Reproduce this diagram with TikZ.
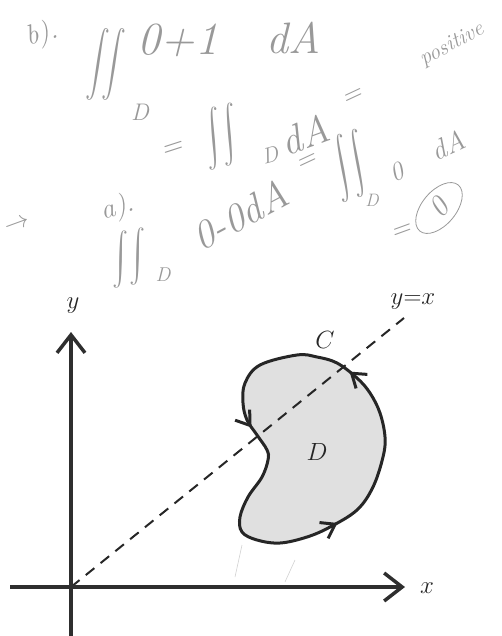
\documentclass[tikz,border=0pt]{standalone}
\usepackage{amsmath}
\usetikzlibrary{arrows.meta,decorations.markings,shapes.geometric}
\newcommand{\tallint}[1]{\scalebox{1}[#1]{$\displaystyle\iint$}}
\begin{document}
\begin{tikzpicture}[x=1pt,y=-1pt,
  axisline/.style={line width=3.5pt, draw=black!82, -{Straight Barb[length=18pt,width=28pt]}},
  dashline/.style={line width=2pt, draw=black!85, dash pattern=on 11pt off 8pt},
  curvetip/.style={line width=3pt},
  lab/.style={font=\fontsize{28}{30}\selectfont, text=black!85},
  hw/.style={text=black!40, font=\itshape\fontsize{#1}{#1}\selectfont, inner sep=0pt},
  scratch/.style={draw=black!18, line width=0.6pt}]
\useasboundingbox (0,0) rectangle (501,636);

% ---- handwritten notes ----
\node[hw=28, rotate=15] (hb) at (42,35) {b).};
\node[hw=40] (hi1) at (106,64) {\tallint{1.3}};
\node[hw=24] (hd1) at (140,112) {D};
\node[hw=46] (he1) at (178,40) {0+1};
\node[hw=44] (hda1) at (293,38) {dA};
\node[hw=22, rotate=28] (hpos) at (452,45) {positive};

\node[hw=30, rotate=18] (heq2) at (173,150) {=};
\node[hw=32, rotate=15] (hi2) at (221,137) {\tallint{1.1}};
\node[hw=22, rotate=15] (hd2) at (270,155) {D};
\node[hw=40, rotate=20] (hda2) at (305,135) {dA};
\node[hw=28, rotate=25] (heq2b) at (353,97) {=};

\node[hw=26, rotate=20] (harr) at (18,225) {$\rightarrow$};
\node[hw=28, rotate=15] (ha) at (118,208) {a).};
\node[hw=24, rotate=10] (hi3) at (129,258) {\tallint{1.0}};
\node[hw=20] (hd3) at (163,275) {D};
\node[hw=40, rotate=28] (he3) at (240,215) {0-0dA};
\node[hw=28, rotate=25] (heq3) at (307,162) {=};
\node[hw=30, rotate=20] (hi4) at (350,166) {\tallint{1.2}};
\node[hw=18] (hd4) at (372,200) {D};
\node[hw=26, rotate=25] (hz) at (397,172) {0};
\node[hw=28, rotate=25] (hda4) at (448,145) {dA};
\node[hw=28, rotate=20] (heq4) at (402,232) {=};
\node[hw=30, draw=black!40, line width=0.8pt, ellipse, minimum width=60pt,
      minimum height=34pt, rotate=50] (hcirc) at (439,208) {0};

% ---- faint stray marks ----
\coordinate (s1a) at (242,545); \coordinate (s1b) at (235,577);
\coordinate (s2a) at (295,560); \coordinate (s2b) at (285,582);
\draw[scratch] (s1a) -- (s1b);
\draw[scratch] (s2a) -- (s2b);

% ---- region D with boundary C ----
\draw[line width=3pt, draw=black!85, fill=black!12, postaction={decorate},
  decoration={markings,
    mark=at position 0.125 with {\arrow[curvetip]{Straight Barb[length=13pt,width=18pt]}},
    mark=at position 0.513 with {\arrow[curvetip]{Straight Barb[length=13pt,width=18pt]}},
    mark=at position 0.832 with {\arrow[curvetip]{Straight Barb[length=13pt,width=18pt]}}}]
  plot[smooth cycle, tension=0.6] coordinates {
    (297,355) (260,365) (245,383) (243,403) (247,420) (257,435) (267,450)
    (268,460) (262,477) (248,497) (240,517) (242,532) (257,540) (280,543)
    (307,537) (330,527) (357,510) (373,487) (383,457) (385,437) (380,413)
    (370,393) (357,378) (337,363) (317,357)};

% ---- axes ----
\coordinate (O) at (71,587);
\coordinate (xs) at (10,587);
\coordinate (xe) at (405,587);
\coordinate (ys) at (71,636);
\coordinate (ye) at (71,332);
\coordinate (de) at (404,318);
\draw[dashline] (O) -- (de);
\draw[axisline] (xs) -- (xe);
\draw[axisline] (ys) -- (ye);

\node[lab] (ylab) at (73,306) {$y$};
\node[lab] (xlab) at (427,588) {$x$};
\node[lab] (ylx) at (413,302) {$y{=}x$};
\node[lab] (clab) at (325,340) {$C$};
\node[lab] (dlab) at (317,452) {$D$};
\end{tikzpicture}
\end{document}
